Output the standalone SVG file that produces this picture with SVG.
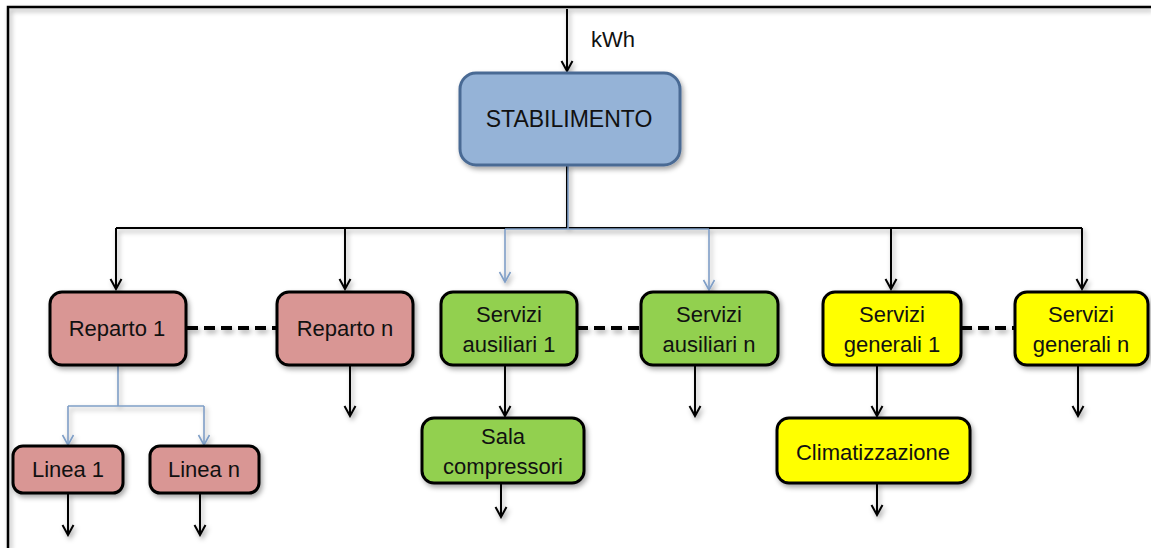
<svg xmlns="http://www.w3.org/2000/svg" width="1151" height="548" viewBox="0 0 1151 548">
<defs>
<filter id="sh" x="-20%" y="-20%" width="140%" height="150%">
<feDropShadow dx="2" dy="3" stdDeviation="2.5" flood-color="#000" flood-opacity="0.35"/>
</filter>
<marker id="ak" markerUnits="userSpaceOnUse" viewBox="-12 -7 14 14" refX="0" refY="0" markerWidth="14" markerHeight="14" orient="auto">
<path d="M-10,-5.5 L0,0 L-10,5.5" fill="none" stroke="#000" stroke-width="2"/>
</marker>
<marker id="ab" markerUnits="userSpaceOnUse" viewBox="-12 -7 14 14" refX="0" refY="0" markerWidth="14" markerHeight="14" orient="auto">
<path d="M-10,-5.5 L0,0 L-10,5.5" fill="none" stroke="#7f9ec6" stroke-width="1.6"/>
</marker>
</defs>
<style>
text{font-family:"Liberation Sans",Arial,sans-serif;font-size:22px;fill:#111;text-anchor:middle}
.box{stroke:#000;stroke-width:3}
.pink{fill:#d99694}
.green{fill:#92d050}
.yellow{fill:#ffff00}
.blk{fill:none;stroke:#000;stroke-width:2}
.blu{fill:none;stroke:#7f9ec6;stroke-width:1.6}
.dash{fill:none;stroke:#000;stroke-width:4;stroke-dasharray:11 6}
</style>
<rect width="1151" height="548" fill="#fff"/>
<g id="border" filter="url(#sh)">
<path d="M8,548 V7 H1151" fill="none" stroke="#000" stroke-width="2.5"/>
</g>
<g id="connectors">
<g filter="url(#sh)">
<path class="blk" d="M567,9 V71" marker-end="url(#ak)"/>
<path class="blk" d="M567,165 V228 M116,228 H1082"/>
<path class="blk" d="M116,228 V289" marker-end="url(#ak)"/>
<path class="blk" d="M345,228 V289" marker-end="url(#ak)"/>
<path class="blk" d="M891,228 V289" marker-end="url(#ak)"/>
<path class="blk" d="M1082,228 V289" marker-end="url(#ak)"/>
<path class="blu" d="M568,166 V229 M505,229 H709"/>
<path class="blu" d="M505,229 V282" marker-end="url(#ab)"/>
<path class="blu" d="M709,229 V290" marker-end="url(#ab)"/>
<path class="blu" d="M118,366 V406 M68,406 H204"/>
<path class="blu" d="M68,406 V445" marker-end="url(#ab)"/>
<path class="blu" d="M204,406 V445" marker-end="url(#ab)"/>
<path class="blk" d="M68,493 V535" marker-end="url(#ak)"/>
<path class="blk" d="M200,493 V535" marker-end="url(#ak)"/>
<path class="blk" d="M350,365 V416" marker-end="url(#ak)"/>
<path class="blk" d="M505,365 V416" marker-end="url(#ak)"/>
<path class="blk" d="M501,483 V517" marker-end="url(#ak)"/>
<path class="blk" d="M695,365 V416" marker-end="url(#ak)"/>
<path class="blk" d="M877,365 V416" marker-end="url(#ak)"/>
<path class="blk" d="M877,483 V515" marker-end="url(#ak)"/>
<path class="blk" d="M1078,365 V416" marker-end="url(#ak)"/>
<path class="dash" d="M187,328 H277 M577,328 H641 M961,328 H1015"/>
</g>
<text x="613" y="47">kWh</text>
</g>
<g id="stabilimento">
<rect x="460" y="73" width="220" height="92" rx="16" fill="#95b3d7" stroke="#4a6a94" stroke-width="3" filter="url(#sh)"/>
<text x="569" y="127" style="font-size:23px">STABILIMENTO</text>
</g>
<g id="reparto1">
<rect class="box pink" x="50" y="292" width="136" height="73" rx="12" filter="url(#sh)"/>
<text x="117" y="336">Reparto 1</text>
</g>
<g id="repartoN">
<rect class="box pink" x="277" y="292" width="136" height="73" rx="12" filter="url(#sh)"/>
<text x="345" y="336">Reparto n</text>
</g>
<g id="servAus1">
<rect class="box green" x="441" y="292" width="136" height="73" rx="12" filter="url(#sh)"/>
<text x="509" y="322">Servizi</text>
<text x="509" y="352">ausiliari 1</text>
</g>
<g id="servAusN">
<rect class="box green" x="641" y="292" width="137" height="73" rx="12" filter="url(#sh)"/>
<text x="709" y="322">Servizi</text>
<text x="709" y="352">ausiliari n</text>
</g>
<g id="servGen1">
<rect class="box yellow" x="823" y="292" width="138" height="73" rx="12" filter="url(#sh)"/>
<text x="892" y="322">Servizi</text>
<text x="892" y="352">generali 1</text>
</g>
<g id="servGenN">
<rect class="box yellow" x="1015" y="292" width="133" height="73" rx="12" filter="url(#sh)"/>
<text x="1081" y="322">Servizi</text>
<text x="1081" y="352">generali n</text>
</g>
<g id="linea1">
<rect class="box pink" x="13" y="446" width="110" height="47" rx="10" filter="url(#sh)"/>
<text x="68" y="477">Linea 1</text>
</g>
<g id="lineaN">
<rect class="box pink" x="150" y="446" width="109" height="47" rx="10" filter="url(#sh)"/>
<text x="204" y="477">Linea n</text>
</g>
<g id="salaCompressori">
<rect class="box green" x="422" y="418" width="162" height="65" rx="12" filter="url(#sh)"/>
<text x="503" y="444">Sala</text>
<text x="503" y="474">compressori</text>
</g>
<g id="climatizzazione">
<rect class="box yellow" x="777" y="418" width="193" height="65" rx="12" filter="url(#sh)"/>
<text x="873" y="460">Climatizzazione</text>
</g>
</svg>
